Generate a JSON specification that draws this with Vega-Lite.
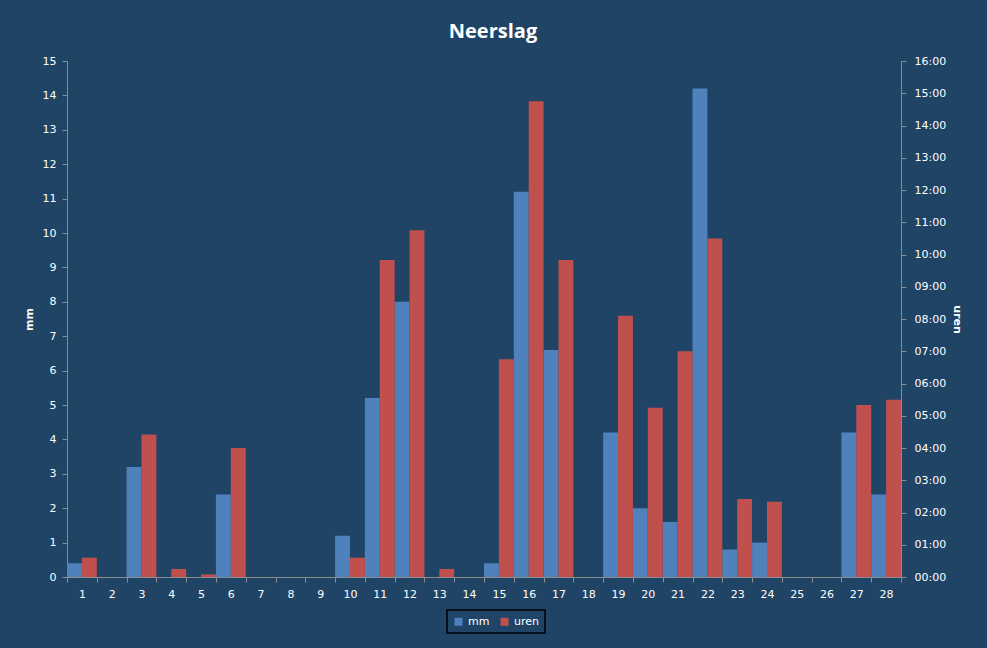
{
  "$schema": "https://vega.github.io/schema/vega-lite/v6.json",
  "autosize": {"type": "none"},
  "width": 834,
  "height": 516,
  "padding": {"left": 67, "top": 61, "right": 86, "bottom": 71},
  "background": "#1F4466",
  "title": {
    "text": "Neerslag",
    "font": "Open Sans",
    "fontSize": 20,
    "fontWeight": "bold",
    "color": "#FFFFFF",
    "anchor": "middle",
    "frame": "group",
    "dx": 9,
    "offset": 13
  },
  "config": {
    "view": {"stroke": null},
    "axis": {
      "labelFont": "DejaVu Sans",
      "labelFontSize": 11,
      "labelColor": "#FFFFFF",
      "domainColor": "#8C8C8C",
      "tickColor": "#8C8C8C",
      "tickSize": 5,
      "grid": false,
      "titleFont": "DejaVu Sans",
      "titleFontSize": 11,
      "titleFontWeight": "bold",
      "titleColor": "#FFFFFF"
    },
    "legend": {
      "labelFont": "DejaVu Sans",
      "labelFontSize": 11,
      "labelColor": "#FFFFFF",
      "strokeWidth": 1.5
    }
  },
  "data": {
    "values": [
      {"dag": 1, "reeks": "mm", "waarde": 0.4}, {"dag": 1, "reeks": "uren", "waarde": 0.6},
      {"dag": 2, "reeks": "mm", "waarde": 0}, {"dag": 2, "reeks": "uren", "waarde": 0},
      {"dag": 3, "reeks": "mm", "waarde": 3.2}, {"dag": 3, "reeks": "uren", "waarde": 4.42},
      {"dag": 4, "reeks": "mm", "waarde": 0}, {"dag": 4, "reeks": "uren", "waarde": 0.25},
      {"dag": 5, "reeks": "mm", "waarde": 0}, {"dag": 5, "reeks": "uren", "waarde": 0.08},
      {"dag": 6, "reeks": "mm", "waarde": 2.4}, {"dag": 6, "reeks": "uren", "waarde": 4.0},
      {"dag": 7, "reeks": "mm", "waarde": 0}, {"dag": 7, "reeks": "uren", "waarde": 0},
      {"dag": 8, "reeks": "mm", "waarde": 0}, {"dag": 8, "reeks": "uren", "waarde": 0},
      {"dag": 9, "reeks": "mm", "waarde": 0}, {"dag": 9, "reeks": "uren", "waarde": 0},
      {"dag": 10, "reeks": "mm", "waarde": 1.2}, {"dag": 10, "reeks": "uren", "waarde": 0.6},
      {"dag": 11, "reeks": "mm", "waarde": 5.2}, {"dag": 11, "reeks": "uren", "waarde": 9.83},
      {"dag": 12, "reeks": "mm", "waarde": 8.0}, {"dag": 12, "reeks": "uren", "waarde": 10.75},
      {"dag": 13, "reeks": "mm", "waarde": 0}, {"dag": 13, "reeks": "uren", "waarde": 0.25},
      {"dag": 14, "reeks": "mm", "waarde": 0}, {"dag": 14, "reeks": "uren", "waarde": 0},
      {"dag": 15, "reeks": "mm", "waarde": 0.4}, {"dag": 15, "reeks": "uren", "waarde": 6.75},
      {"dag": 16, "reeks": "mm", "waarde": 11.2}, {"dag": 16, "reeks": "uren", "waarde": 14.75},
      {"dag": 17, "reeks": "mm", "waarde": 6.6}, {"dag": 17, "reeks": "uren", "waarde": 9.83},
      {"dag": 18, "reeks": "mm", "waarde": 0}, {"dag": 18, "reeks": "uren", "waarde": 0},
      {"dag": 19, "reeks": "mm", "waarde": 4.2}, {"dag": 19, "reeks": "uren", "waarde": 8.1},
      {"dag": 20, "reeks": "mm", "waarde": 2.0}, {"dag": 20, "reeks": "uren", "waarde": 5.25},
      {"dag": 21, "reeks": "mm", "waarde": 1.6}, {"dag": 21, "reeks": "uren", "waarde": 7.0},
      {"dag": 22, "reeks": "mm", "waarde": 14.2}, {"dag": 22, "reeks": "uren", "waarde": 10.5},
      {"dag": 23, "reeks": "mm", "waarde": 0.8}, {"dag": 23, "reeks": "uren", "waarde": 2.42},
      {"dag": 24, "reeks": "mm", "waarde": 1.0}, {"dag": 24, "reeks": "uren", "waarde": 2.33},
      {"dag": 25, "reeks": "mm", "waarde": 0}, {"dag": 25, "reeks": "uren", "waarde": 0},
      {"dag": 26, "reeks": "mm", "waarde": 0}, {"dag": 26, "reeks": "uren", "waarde": 0},
      {"dag": 27, "reeks": "mm", "waarde": 4.2}, {"dag": 27, "reeks": "uren", "waarde": 5.33},
      {"dag": 28, "reeks": "mm", "waarde": 2.4}, {"dag": 28, "reeks": "uren", "waarde": 5.5}
    ]
  },
  "encoding": {
    "x": {
      "field": "dag",
      "type": "ordinal",
      "scale": {"paddingInner": 0, "paddingOuter": 0},
      "axis": {"title": null, "labelAngle": 0, "tickBand": "extent", "labelPadding": 6}
    },
    "xOffset": {
      "field": "reeks",
      "type": "nominal",
      "scale": {"domain": ["mm", "uren"], "paddingInner": 0, "paddingOuter": 0}
    },
    "color": {
      "field": "reeks",
      "type": "nominal",
      "scale": {"domain": ["mm", "uren"], "range": ["#4F81BD", "#C0504D"]},
      "legend": {
        "title": null,
        "orient": "none",
        "legendX": 380,
        "legendY": 549,
        "direction": "horizontal",
        "symbolType": "square",
        "symbolSize": 64,
        "symbolStrokeWidth": 0,
        "strokeColor": "#000000",
        "padding": 6,
        "columnPadding": 9,
        "labelOffset": 4
      }
    }
  },
  "layer": [
    {
      "transform": [{"filter": "datum.reeks === 'mm'"}],
      "mark": {"type": "bar"},
      "encoding": {
        "y": {
          "field": "waarde",
          "type": "quantitative",
          "scale": {"domain": [0, 15], "nice": false},
          "axis": {
            "title": "mm",
            "orient": "left",
            "values": [0, 1, 2, 3, 4, 5, 6, 7, 8, 9, 10, 11, 12, 13, 14, 15],
            "labelPadding": 6,
            "titlePadding": 8
          }
        }
      }
    },
    {
      "transform": [{"filter": "datum.reeks === 'uren'"}],
      "mark": {"type": "bar"},
      "encoding": {
        "y": {
          "field": "waarde",
          "type": "quantitative",
          "scale": {"domain": [0, 16], "nice": false},
          "axis": {
            "title": "uren",
            "orient": "right",
            "values": [0, 1, 2, 3, 4, 5, 6, 7, 8, 9, 10, 11, 12, 13, 14, 15, 16],
            "labelExpr": "format(datum.value, '02d') + ':00'",
            "labelPadding": 8,
            "titlePadding": 6
          }
        }
      }
    }
  ],
  "resolve": {"scale": {"y": "independent"}}
}
